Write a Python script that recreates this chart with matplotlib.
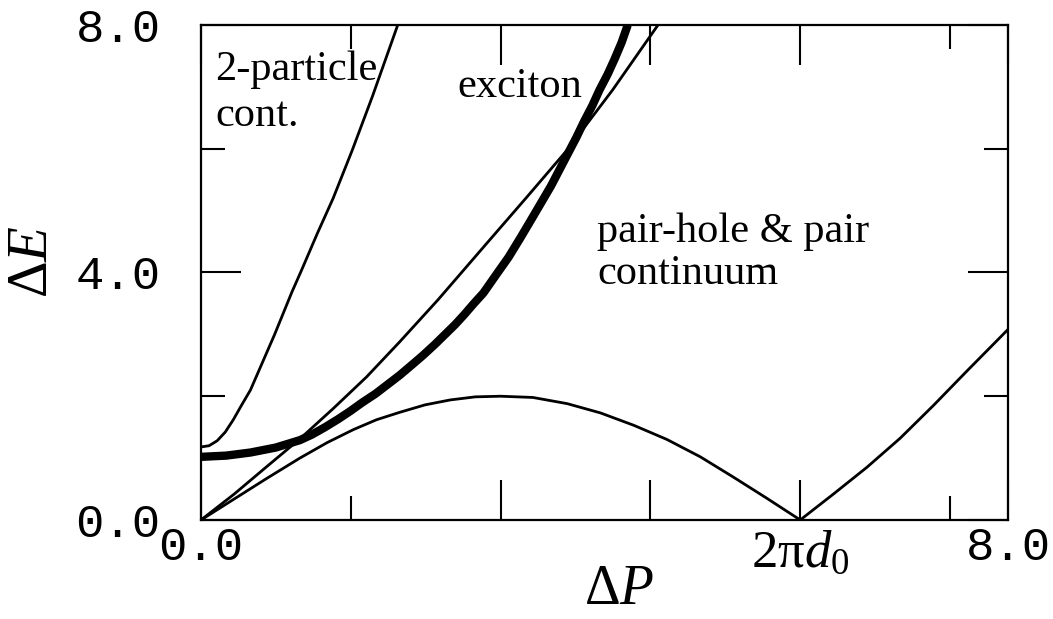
import numpy as np
import matplotlib.pyplot as plt

plt.rcParams['mathtext.fontset'] = 'custom'
plt.rcParams['mathtext.rm'] = 'Liberation Serif'
plt.rcParams['mathtext.it'] = 'Liberation Serif:italic'

# momentum where the pair-hole band comes back to zero (2 pi d0)
p_zero = 5.94

# upper edge of the 2-particle continuum
p_two = [0.0, 0.08, 0.16, 0.24, 0.32, 0.40, 0.49, 0.57, 0.65, 0.73, 0.81, 0.90,
         1.00, 1.15, 1.31, 1.50, 1.70, 1.95]
e_two = [1.18, 1.20, 1.28, 1.42, 1.62, 1.85, 2.10, 2.40, 2.70, 3.00, 3.32, 3.68,
         4.05, 4.62, 5.20, 5.98, 6.85, 8.0]

# upper edge of the pair continuum
p_pair = [0.0, 0.33, 0.65, 0.98, 1.31, 1.64, 1.97, 2.35, 2.80, 3.22, 3.63, 4.08, 4.53]
e_pair = [0.0, 0.42, 0.86, 1.31, 1.80, 2.31, 2.88, 3.56, 4.41, 5.20, 5.98, 6.95, 8.0]

# exciton branch
p_exc = [0.0, 0.25, 0.49, 0.74, 0.98, 1.10, 1.23, 1.36, 1.48, 1.60, 1.73, 1.85,
         1.97, 2.10, 2.20, 2.32, 2.42, 2.52, 2.61, 2.70, 2.80, 2.92, 3.05, 3.17,
         3.29, 3.38, 3.47, 3.55, 3.63, 3.72, 3.80, 3.88, 3.95, 4.03, 4.10, 4.17,
         4.23]
e_exc = [1.02, 1.04, 1.09, 1.17, 1.29, 1.38, 1.50, 1.63, 1.76, 1.90, 2.04, 2.19,
         2.34, 2.52, 2.66, 2.84, 3.00, 3.16, 3.32, 3.49, 3.67, 3.95, 4.25, 4.57,
         4.90, 5.15, 5.40, 5.65, 5.90, 6.18, 6.45, 6.70, 6.95, 7.20, 7.45, 7.72,
         8.0]

# lower edge of the pair-hole continuum
p_low = [0.0, 0.33, 0.65, 0.98, 1.25, 1.51, 1.74, 1.97, 2.22, 2.47, 2.72, 2.97,
         3.29, 3.63, 3.96, 4.29, 4.62, 4.95, 5.27, 5.60, 5.94, 6.27, 6.60, 6.93,
         7.26, 7.60, 8.0]
e_low = [0.0, 0.34, 0.67, 1.00, 1.25, 1.46, 1.62, 1.74, 1.86, 1.94, 1.99, 2.00,
         1.98, 1.88, 1.73, 1.53, 1.30, 1.02, 0.70, 0.36, 0.0, 0.42, 0.85, 1.32,
         1.85, 2.42, 3.08]

fig = plt.figure(figsize=(10.53, 6.19), dpi=100)
ax = fig.add_axes([0.1909, 0.160, 0.7664, 0.7996])

ax.plot(p_two, e_two, color='black', lw=2.0)
ax.plot(p_pair, e_pair, color='black', lw=2.0)
ax.plot(p_low, e_low, color='black', lw=2.0)
ax.plot(p_exc, e_exc, color='black', lw=6.0, solid_capstyle='butt')

ax.set_xlim(0, 8)
ax.set_ylim(0, 8)
for s in ax.spines.values():
    s.set_linewidth(1.6)

mono = dict(family='Liberation Mono', size=34)

# x axis: labelled ticks plus quarter steps of 2 pi d0
ax.set_xticks([0, p_zero / 2, 3 * p_zero / 4, p_zero, 8])
ax.set_xticklabels(['0.0', '', '', r'$2\mathrm{\pi}d_0$', '8.0'])
ax.set_xticks([p_zero / 4, 5 * p_zero / 4], minor=True)
ax.set_yticks([0, 4, 8])
ax.set_yticklabels(['0.0', '4.0', '8.0'])
ax.set_yticks([2, 6], minor=True)

ax.tick_params(which='major', direction='in', length=29, width=1.5,
               top=True, right=True)
ax.tick_params(which='minor', direction='in', length=17, width=1.5,
               top=True, right=True)
ax.tick_params(axis='x', which='major', pad=4)
ax.tick_params(axis='y', which='major', pad=29)

for lab in ax.get_yticklabels():
    lab.set_fontproperties(mono)
xl = ax.get_xticklabels()
for lab in (xl[0], xl[4]):
    lab.set_fontproperties(mono)
xl[3].set_fontsize(38)
xl[3].set_x(p_zero + 0.1)

fig.text(0.588, 0.005, r'$\Delta P$', fontsize=40, ha='center', va='bottom')
fig.text(0.030, 0.577, r'$\Delta E$', fontsize=41, ha='center', va='center',
         rotation=90)

serif = dict(family='Liberation Serif', size=30.5, va='baseline')
ax.text(0.14, 7.11, '2-particle', **serif)
ax.text(0.14, 6.37, 'cont.', **serif)
ax.text(2.54, 6.84, 'exciton', **serif)
ax.text(3.93, 4.49, 'pair-hole & pair', **serif)
ax.text(3.93, 3.81, 'continuum', **serif)

fig.savefig('out.png', dpi=100)
